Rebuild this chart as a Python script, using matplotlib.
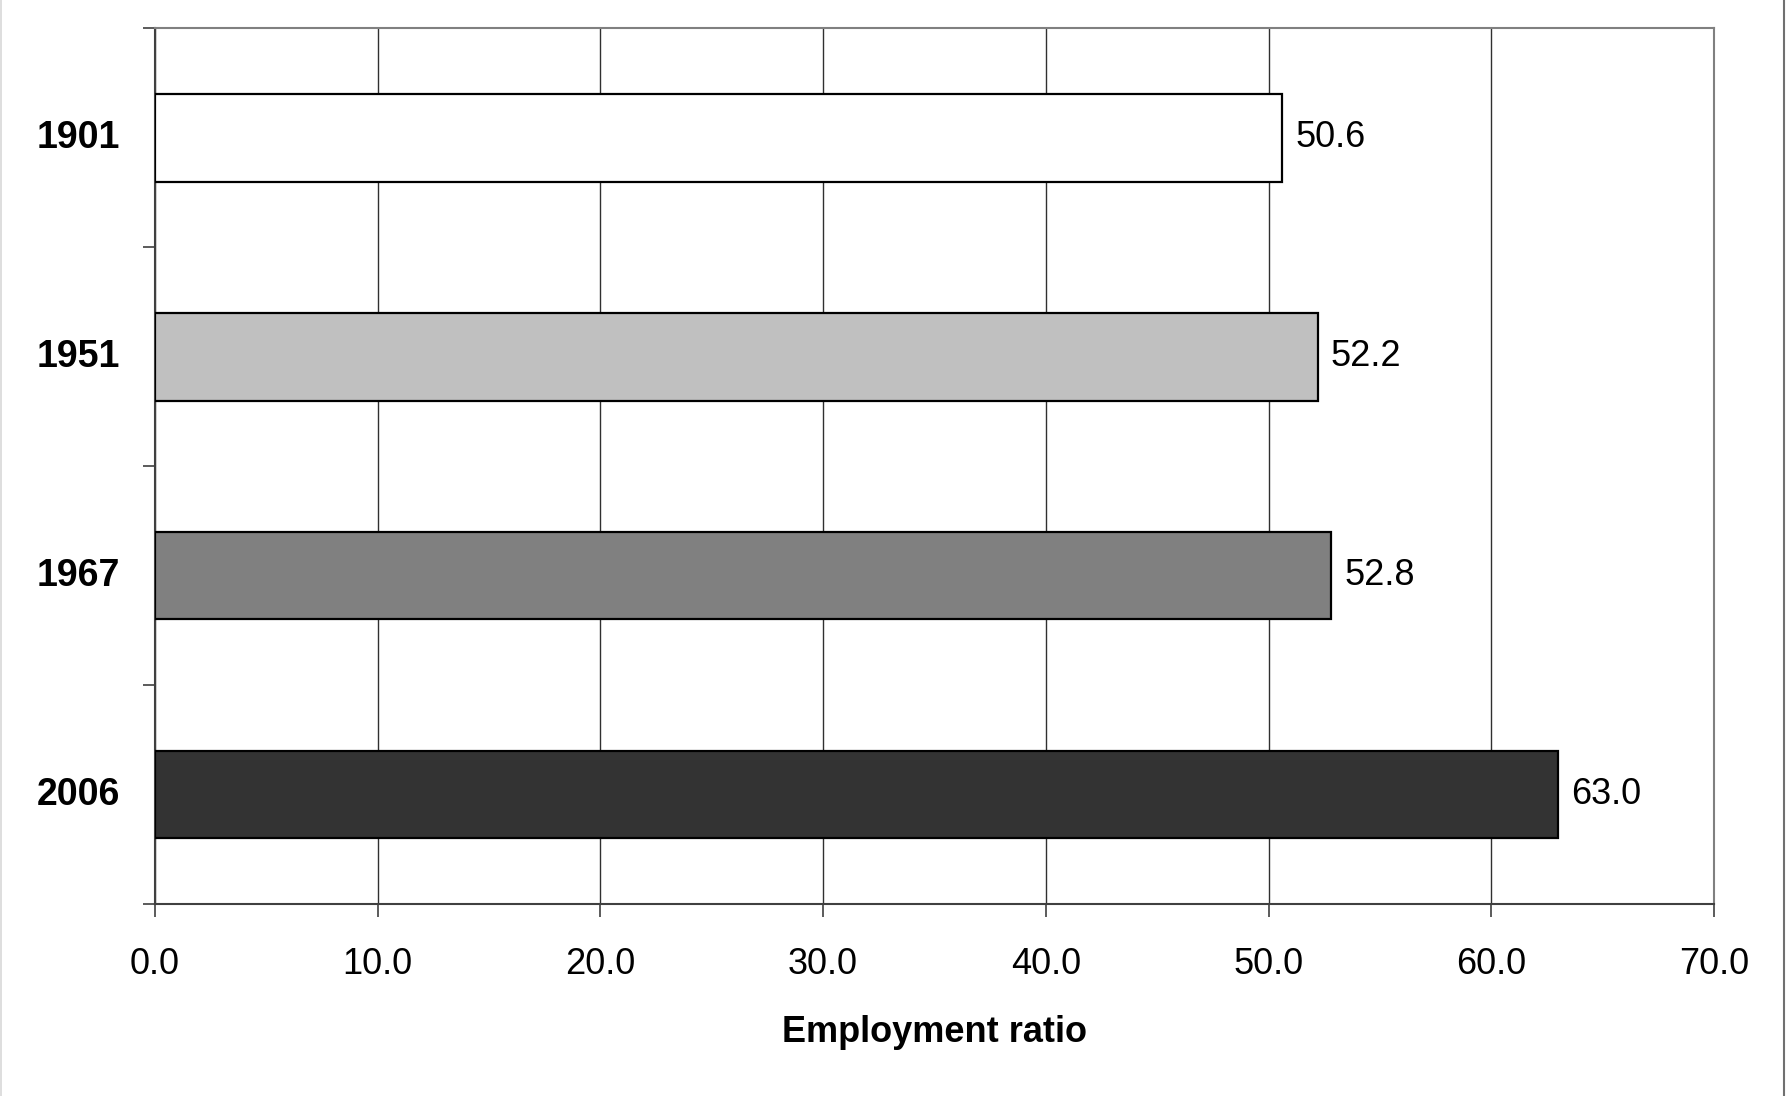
import matplotlib.pyplot as plt
import numpy as np
from matplotlib.lines import Line2D

plt.rcParams['font.family'] = ['Liberation Sans', 'DejaVu Sans']

# data
years = ['1901', '1951', '1967', '2006']
ratios = [50.6, 52.2, 52.8, 63.0]
bar_colors = ['#FFFFFF', '#C0C0C0', '#808080', '#333333']
x_ticks = [0, 10, 20, 30, 40, 50, 60, 70]

fig = plt.figure(figsize=(17.87, 10.96), dpi=100)
ax = fig.add_axes([0.0867, 0.1752, 0.8725, 0.7988])

y = np.arange(len(years))
ax.barh(y, ratios, height=0.4, color=bar_colors, edgecolor='black', linewidth=1.6, zorder=3)

for yi, v in zip(y, ratios):
    ax.text(v + 0.6, yi, f'{v:.1f}', va='center', ha='left', fontsize=26, zorder=4)

ax.set_xlim(0, 70)
ax.set_ylim(len(years) - 0.5, -0.5)
ax.set_xticks(x_ticks)
ax.set_xticklabels([f'{t:.1f}' for t in x_ticks], fontsize=26)
ax.set_yticks(y)
ax.set_yticklabels(years, fontsize=27, fontweight='bold', va='center')
ax.tick_params(axis='y', length=0, pad=25)
ax.set_yticks(np.arange(-0.5, len(years)), minor=True)
ax.tick_params(axis='y', which='minor', length=9, width=1.2, color='#404040')
ax.tick_params(axis='x', length=9, width=1.2, color='#404040', pad=22)

ax.xaxis.grid(True, color='#303030', linewidth=1.0, zorder=0)
ax.set_axisbelow(True)

for s in ax.spines.values():
    s.set_color('#808080')
    s.set_linewidth(1.5)
ax.spines['left'].set_color('#404040')
ax.spines['bottom'].set_color('#404040')

ax.set_xlabel('Employment ratio', fontsize=26, fontweight='bold', labelpad=24)

# outer chart frame edges (left light, right darker)
fig.add_artist(Line2D([0.0006, 0.0006], [0, 1], transform=fig.transFigure,
                      color='#d8d8d8', linewidth=1.2))
fig.add_artist(Line2D([0.9985, 0.9985], [0, 1], transform=fig.transFigure,
                      color='#707070', linewidth=1.5))

fig.savefig('out.png', dpi=100)
